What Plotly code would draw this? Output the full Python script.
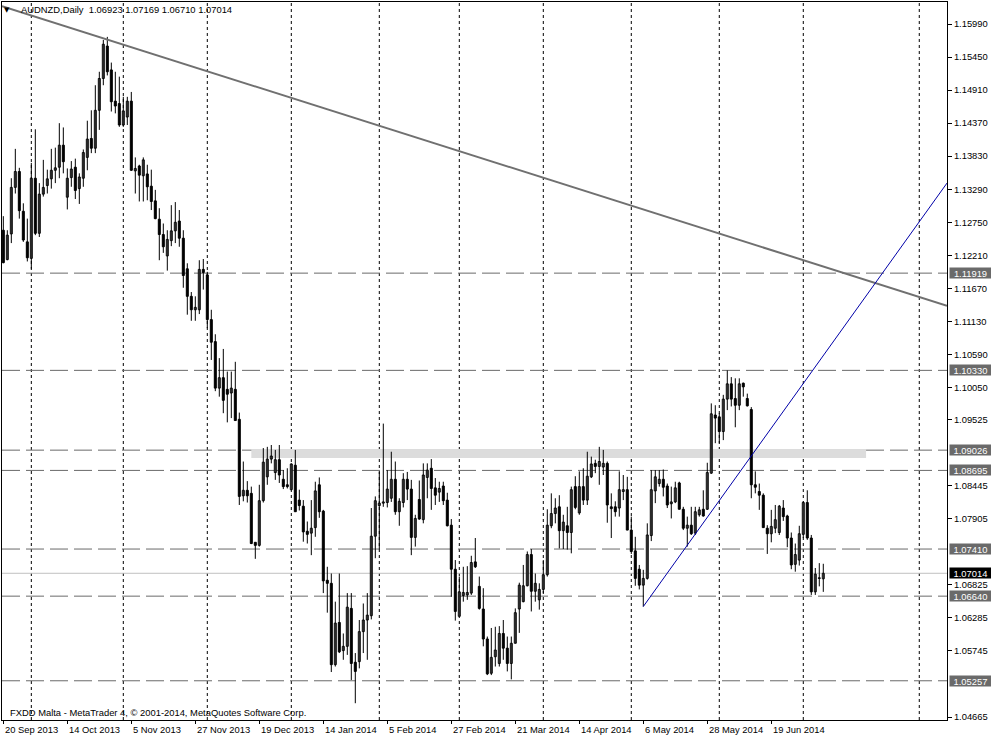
import plotly.graph_objects as go

# ---------------- data (AUDNZD daily) ----------------
opens = [1.1262,1.1214,1.1256,1.1332,1.1358,1.1293,1.1243,1.1216,1.1347,1.1257,
         1.1321,1.1335,1.1346,1.1360,1.1365,1.1401,1.1316,1.1348,1.1365,1.1330,
         1.1347,1.1381,1.1412,1.1396,1.1458,1.1510,1.1563,1.1524,1.1473,1.1469,
         1.1434,1.1447,1.1473,1.1359,1.1367,1.1351,1.1354,1.1334,1.1310,1.1280,
         1.1255,1.1220,1.1245,1.1261,1.1277,1.1249,1.1199,1.1154,1.1132,1.1132,
         1.1198,1.1189,1.1116,1.1080,1.1004,1.1021,1.1002,1.0996,1.1002,1.0953,
         1.0828,1.0837,1.0832,1.0752,1.0747,1.0820,1.0859,1.0888,1.0866,1.0887,
         1.0855,1.0846,1.0838,1.0878,1.0821,1.0811,1.0770,1.0767,1.0776,1.0846,
         1.0803,1.0690,1.0685,1.0552,1.0621,1.0575,1.0582,1.0644,1.0556,1.0557,
         1.0606,1.0625,1.0632,1.0762,1.0812,1.0816,1.0817,1.0824,1.0855,1.0802,
         1.0817,1.0855,1.0839,1.0760,1.0822,1.0789,1.0858,1.0873,1.0841,1.0834,
         1.0844,1.0821,1.0780,1.0708,1.0631,1.0665,1.0666,1.0669,1.0720,1.0680,
         1.0643,1.0594,1.0538,1.0565,1.0554,1.0603,1.0579,1.0554,1.0587,1.0643,
         1.0655,1.0681,1.0732,1.0672,1.0658,1.0675,1.0699,1.0779,1.0799,1.0810,
         1.0771,1.0779,1.0768,1.0843,1.0800,1.0843,1.0821,1.0859,1.0881,1.0876,
         1.0875,1.0881,1.0810,1.0810,1.0808,1.0835,1.0838,1.0772,1.0738,1.0708,
         1.0682,1.0693,1.0763,1.0836,1.0848,1.0855,1.0844,1.0815,1.0818,1.0849,
         1.0806,1.0775,1.0780,1.0767,1.0797,1.0806,1.0806,1.0865,1.0960,1.0957,
         1.0933,1.0986,1.1011,1.0987,1.0976,1.1012,1.0987,1.0969,1.0846,1.0835,
         1.0829,1.0775,1.0766,1.0775,1.0768,1.0808,1.0795,1.0759,1.0716,1.0723,
         1.0765,1.0817,1.0759,1.0671,1.0694,1.06923]
highs = [1.1285,1.1262,1.1347,1.1395,1.1364,1.1306,1.1281,1.1372,1.1427,1.1339,
         1.1377,1.1361,1.1395,1.1397,1.1437,1.1430,1.1363,1.1375,1.1379,1.1355,
         1.1394,1.1441,1.1458,1.1499,1.1521,1.1573,1.1578,1.1536,1.1521,1.1513,
         1.1480,1.1480,1.1488,1.1381,1.1369,1.1381,1.1369,1.1361,1.1328,1.1298,
         1.1273,1.1262,1.1303,1.1308,1.1295,1.1262,1.1208,1.1161,1.1154,1.1213,
         1.1215,1.1194,1.1132,1.1092,1.1053,1.1068,1.1031,1.1031,1.1047,1.0964,
         1.0884,1.0852,1.0843,1.0752,1.0846,1.0906,1.0908,1.0911,1.0903,1.0911,
         1.0870,1.0873,1.0881,1.0903,1.0838,1.0821,1.0786,1.0821,1.0851,1.0858,
         1.0805,1.0712,1.0701,1.0655,1.0701,1.0603,1.0669,1.0669,1.0571,1.0625,
         1.0652,1.0669,1.0808,1.0827,1.0867,1.0946,1.0870,1.0900,1.0884,1.0824,
         1.0865,1.0867,1.0854,1.0797,1.0853,1.0881,1.0881,1.0888,1.0857,1.0851,
         1.0851,1.0833,1.0790,1.0723,1.0696,1.0712,1.0713,1.0730,1.0759,1.0696,
         1.0677,1.0598,1.0612,1.0614,1.0615,1.0625,1.0598,1.0598,1.0644,1.0686,
         1.0715,1.0737,1.0741,1.0701,1.0685,1.0723,1.0806,1.0832,1.0824,1.0829,
         1.0797,1.0810,1.0843,1.0860,1.0868,1.0873,1.0900,1.0892,1.0887,1.0908,
         1.0903,1.0884,1.0832,1.0819,1.0868,1.0862,1.0859,1.0794,1.0761,1.0715,
         1.0707,1.0783,1.0870,1.0870,1.0870,1.0871,1.0848,1.0843,1.0851,1.0851,
         1.0810,1.0794,1.0810,1.0810,1.0810,1.0837,1.0882,1.0979,1.0976,1.0963,
         1.0993,1.1033,1.1022,1.1020,1.1020,1.1013,1.0995,1.0973,1.0868,1.0848,
         1.0832,1.0780,1.0805,1.0813,1.0813,1.0821,1.0797,1.0768,1.0750,1.0779,
         1.0819,1.0837,1.0764,1.0710,1.0718,1.07169]
lows = [1.1208,1.1213,1.1241,1.1322,1.1281,1.1243,1.1211,1.1199,1.1254,1.1251,
        1.1317,1.1322,1.1330,1.1339,1.1347,1.1355,1.1296,1.1333,1.1313,1.1305,
        1.1333,1.1360,1.1388,1.1388,1.1426,1.1499,1.1515,1.1456,1.1453,1.1431,
        1.1431,1.1434,1.1359,1.1322,1.1309,1.1309,1.1311,1.1295,1.1280,1.1213,
        1.1225,1.1196,1.1236,1.1241,1.1235,1.1168,1.1124,1.1114,1.1114,1.1125,
        1.1165,1.1102,1.1050,1.0999,1.0990,1.0963,1.0948,1.0955,1.0951,1.0813,
        1.0819,1.0817,1.0749,1.0725,1.0745,1.0817,1.0846,1.0881,1.0854,1.0849,
        1.0839,1.0840,1.0837,1.0802,1.0804,1.0753,1.0750,1.0731,1.0761,1.0792,
        1.0669,1.0637,1.0540,1.0549,1.0571,1.0560,1.0568,1.0527,1.0489,1.0546,
        1.0571,1.0560,1.0626,1.0726,1.0740,1.0810,1.0809,1.0818,1.0797,1.0779,
        1.0809,1.0821,1.0731,1.0745,1.0789,1.0783,1.0824,1.0805,1.0813,1.0818,
        1.0813,1.0778,1.0663,1.0624,1.0631,1.0655,1.0658,1.0666,1.0710,1.0642,
        1.0582,1.0535,1.0535,1.0549,1.0549,1.0560,1.0541,1.0528,1.0587,1.0604,
        1.0654,1.0680,1.0639,1.0655,1.0642,1.0669,1.0696,1.0775,1.0783,1.0742,
        1.0741,1.0740,1.0734,1.0806,1.0797,1.0813,1.0813,1.0857,1.0865,1.0846,
        1.0862,1.0784,1.0759,1.0794,1.0794,1.0821,1.0772,1.0733,1.0681,1.0675,
        1.0647,1.0691,1.0754,1.0816,1.0843,1.0827,1.0808,1.0791,1.0816,1.0806,
        1.0772,1.0745,1.0764,1.0764,1.0794,1.0794,1.0805,1.0864,1.0914,1.0914,
        1.0919,1.0968,1.0974,1.0940,1.0968,1.0990,1.0974,1.0824,1.0832,1.0805,
        1.0776,1.0733,1.0752,1.0767,1.0764,1.0787,1.0744,1.0708,1.0704,1.0714,
        1.0759,1.0756,1.0666,1.0666,1.0680,1.06710]
closes = [1.1209,1.1254,1.1332,1.1358,1.1294,1.1246,1.1217,1.1347,1.1257,1.1321,
          1.1332,1.1346,1.1360,1.1364,1.1401,1.1374,1.1347,1.1362,1.1327,1.1349,
          1.1389,1.1411,1.1396,1.1458,1.1510,1.1566,1.1521,1.1472,1.1465,1.1434,
          1.1457,1.1473,1.1360,1.1363,1.1352,1.1377,1.1333,1.1309,1.1281,1.1255,
          1.1235,1.1247,1.1261,1.1275,1.1249,1.1188,1.1154,1.1132,1.1136,1.1198,
          1.1193,1.1116,1.1079,1.1004,1.1021,1.0984,1.0994,1.1004,1.0951,1.0827,
          1.0837,1.0828,1.0750,1.0747,1.0820,1.0883,1.0888,1.0893,1.0887,1.0862,
          1.0843,1.0843,1.0880,1.0802,1.0812,1.0769,1.0765,1.0775,1.0836,1.0802,
          1.0689,1.0685,1.0552,1.0620,1.0573,1.0582,1.0646,1.0554,1.0541,1.0606,
          1.0625,1.0633,1.0762,1.0820,1.0816,1.0818,1.0839,1.0855,1.0802,1.0819,
          1.0855,1.0839,1.0760,1.0791,1.0790,1.0862,1.0870,1.0840,1.0829,1.0840,
          1.0820,1.0779,1.0708,1.0639,1.0671,1.0670,1.0670,1.0719,1.0712,1.0644,
          1.0594,1.0537,1.0564,1.0576,1.0603,1.0579,1.0554,1.0587,1.0637,1.0682,
          1.0681,1.0732,1.0672,1.0685,1.0675,1.0699,1.0780,1.0799,1.0808,1.0771,
          1.0785,1.0768,1.0838,1.0809,1.0843,1.0821,1.0860,1.0880,1.0876,1.0884,
          1.0881,1.0813,1.0807,1.0802,1.0838,1.0838,1.0772,1.0737,1.0693,1.0682,
          1.0693,1.0764,1.0838,1.0859,1.0855,1.0842,1.0813,1.0818,1.0841,1.0806,
          1.0775,1.0780,1.0766,1.0802,1.0805,1.0795,1.0866,1.0962,1.0955,1.0933,
          1.0986,1.1011,1.0986,1.0976,1.1011,1.1006,1.0975,1.0846,1.0842,1.0829,
          1.0776,1.0766,1.0778,1.0789,1.0811,1.0794,1.0759,1.0715,1.0732,1.0766,
          1.0817,1.0759,1.0671,1.0700,1.0693,1.07014]

# date axis labels (bar index -> label)
date_label_bars = [0, 16, 32, 48, 64, 80, 96, 112, 128, 144, 160, 176, 192]
date_labels = ["20 Sep 2013", "14 Oct 2013", "5 Nov 2013", "27 Nov 2013", "19 Dec 2013",
               "14 Jan 2014", "5 Feb 2014", "27 Feb 2014", "21 Mar 2014", "14 Apr 2014",
               "6 May 2014", "28 May 2014", "19 Jun 2014"]
month_start_bars = [7, 30, 51, 72, 94, 114, 135, 157, 179, 200, 229]

price_ticks = [1.15990, 1.15450, 1.14910, 1.14370, 1.13830, 1.13290, 1.12750, 1.12210,
               1.11670, 1.11130, 1.10590, 1.10050, 1.09525, 1.08445, 1.07905,
               1.06825, 1.06285, 1.05745, 1.04665]
level_lines = [1.11919, 1.10330, 1.09026, 1.08695, 1.07410, 1.06640, 1.05257]
bid_price = 1.07014
zone_bars = [62, 215.7]
zone_prices = [1.08897, 1.09044]
gray_trend_bars = [9.25, 206.75]
gray_trend_prices = [1.16083, 1.11991]
blue_trend_bars = [160, 206.75]
blue_trend_prices = [1.0647, 1.10731]

header = "AUDNZD,Daily\u00a0\u00a01.06923 1.07169 1.06710 1.07014"
footer = "FXDD Malta - MetaTrader 4, © 2001-2014, MetaQuotes Software Corp."

X_RANGE = [-0.33, 235.93]
Y_RANGE = [1.04616, 1.16350]
FONT = "Liberation Sans, Arial, sans-serif"
FS = 9.4

# ---------------- build ----------------
n = len(opens)
xs = list(range(n))

wx, wy = [], []
for i in xs:
    wx += [i, i, None]
    wy += [lows[i], highs[i], None]

up_x, up_base, up_h = [], [], []
dn_x, dn_base, dn_h = [], [], []
for i in xs:
    o, c = opens[i], closes[i]
    h = max(abs(c - o), 0.00006)
    if c >= o:
        up_x.append(i); up_base.append(o); up_h.append(h)
    else:
        dn_x.append(i); dn_base.append(c); dn_h.append(h)

fig = go.Figure()
fig.add_trace(go.Scatter(x=wx, y=wy, mode="lines", line=dict(color="black", width=1),
                         hoverinfo="skip", showlegend=False))
fig.add_trace(go.Bar(x=up_x, y=up_h, base=up_base, width=0.5,
                     marker=dict(color="white", line=dict(color="black", width=1)),
                     showlegend=False))
fig.add_trace(go.Bar(x=dn_x, y=dn_h, base=dn_base, width=0.5,
                     marker=dict(color="black", line=dict(color="black", width=1)),
                     showlegend=False))

shapes = []
shapes.append(dict(type="rect", xref="x", yref="y", x0=zone_bars[0], x1=zone_bars[1],
                   y0=zone_prices[0], y1=zone_prices[1], fillcolor="#dcdcdc",
                   line=dict(width=0), layer="below"))
for b in month_start_bars:
    shapes.append(dict(type="line", xref="x", yref="paper", x0=b, x1=b, y0=0, y1=1,
                       line=dict(color="black", width=1, dash="3px,3px"), layer="below"))
shapes.append(dict(type="line", xref="paper", yref="y", x0=0, x1=1, y0=bid_price, y1=bid_price,
                   line=dict(color="#c0c0c0", width=1), layer="below"))
for lv in level_lines:
    shapes.append(dict(type="line", xref="paper", yref="y", x0=0, x1=1, y0=lv, y1=lv,
                       line=dict(color="#6a6a6a", width=1, dash="18px,6px"), layer="below"))

def extend(bx, py, x_from, x_to):
    s = (py[1] - py[0]) / (bx[1] - bx[0])
    return (x_from, py[0] + s * (x_from - bx[0]), x_to, py[0] + s * (x_to - bx[0]))

gx0, gy0, gx1, gy1 = extend(gray_trend_bars, gray_trend_prices, X_RANGE[0], X_RANGE[1])
shapes.append(dict(type="line", xref="x", yref="y", x0=gx0, y0=gy0, x1=gx1, y1=gy1,
                   line=dict(color="#707070", width=2)))
bx0, by0, bx1, by1 = extend(blue_trend_bars, blue_trend_prices, blue_trend_bars[0], X_RANGE[1])
shapes.append(dict(type="line", xref="x", yref="y", x0=bx0, y0=by0, x1=bx1, y1=by1,
                   line=dict(color="#0000a8", width=1)))

annotations = []
for b, t in zip(date_label_bars, date_labels):
    annotations.append(dict(x=b, y=0, xref="x", yref="paper", text=t, showarrow=False,
                            xanchor="left", yanchor="top", xshift=0, yshift=-2,
                            font=dict(family=FONT, size=FS, color="black")))
for lv in level_lines:
    annotations.append(dict(x=1, y=lv, xref="paper", yref="y", text="%.5f" % lv, showarrow=False,
                            xanchor="left", yanchor="middle", xshift=2, width=41, height=10,
                            bgcolor="#6a6a6a", borderpad=0, align="center",
                            font=dict(family=FONT, size=FS, color="white")))
annotations.append(dict(x=1, y=bid_price, xref="paper", yref="y", text="%.5f" % bid_price,
                        showarrow=False, xanchor="left", yanchor="middle", xshift=2, width=41,
                        height=10, bgcolor="black", borderpad=0, align="center",
                        font=dict(family=FONT, size=FS, color="white")))
annotations.append(dict(x=0.0053, y=0.989, xref="paper", yref="paper", text="▼", showarrow=False,
                        xanchor="center", yanchor="middle",
                        font=dict(family="DejaVu Sans", size=7, color="black")))
annotations.append(dict(x=0.018, y=0.989, xref="paper", yref="paper", text=header, showarrow=False,
                        xanchor="left", yanchor="middle",
                        font=dict(family=FONT, size=FS, color="black")))
annotations.append(dict(x=0.006, y=0.011, xref="paper", yref="paper", text=footer, showarrow=False,
                        xanchor="left", yanchor="middle",
                        font=dict(family=FONT, size=FS, color="black")))

fig.update_layout(
    width=991, height=738,
    margin=dict(l=2, r=44, t=2, b=18),
    paper_bgcolor="white", plot_bgcolor="white",
    barmode="overlay", bargap=0, showlegend=False,
    shapes=shapes, annotations=annotations,
    xaxis=dict(range=X_RANGE, showgrid=False, zeroline=False, showline=True, linecolor="black",
               linewidth=1, mirror=True, ticks="outside", ticklen=3, tickcolor="black",
               tickvals=date_label_bars, showticklabels=False, fixedrange=True),
    yaxis=dict(range=Y_RANGE, side="right", showgrid=False, zeroline=False, showline=True,
               linecolor="black", linewidth=1, mirror=True, ticks="outside", ticklen=4,
               tickcolor="black", tickvals=price_ticks,
               ticktext=["%.5f" % v for v in price_ticks],
               tickfont=dict(family=FONT, size=FS, color="black"), fixedrange=True),
)

fig.write_html("out.html", config={"displayModeBar": False, "staticPlot": True})

# remove the default page margin so the figure sits at the window's top-left corner
with open("out.html", "r", encoding="utf-8") as f:
    html = f.read()
html = html.replace("<head>", "<head><style>html,body{margin:0;padding:0;overflow:hidden;}</style>", 1)
with open("out.html", "w", encoding="utf-8") as f:
    f.write(html)
